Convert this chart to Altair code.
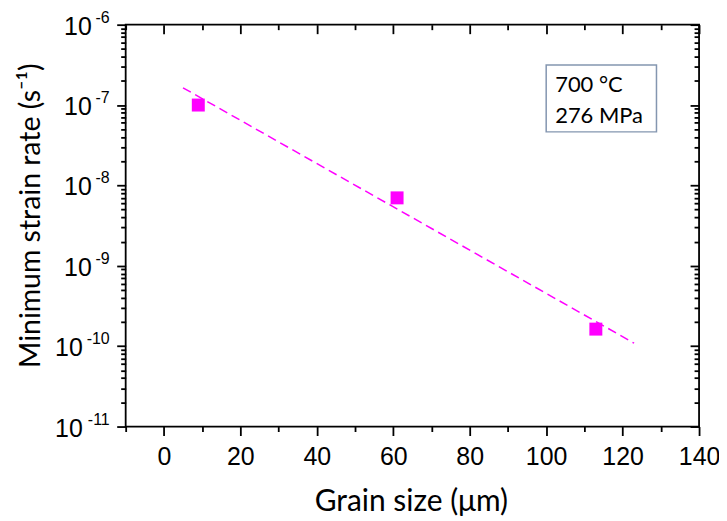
import altair as alt
import pandas as pd

# ---- data ----
grain_size = [9, 61, 113]                 # µm
strain_rate = [1.0e-7, 7.0e-9, 1.63e-10]  # 1/s
fit_x = [5, 123]
fit_y = [1.64e-7, 1.09e-10]

x_major = [0, 20, 40, 60, 80, 100, 120, 140]
x_minor = [-10, 10, 30, 50, 70, 90, 110, 130]
y_exponents = [-11, -10, -9, -8, -7, -6]
y_major = [10.0 ** e for e in y_exponents]
y_minor = [m * 10.0 ** e for e in range(-11, -6) for m in range(2, 10)]
box_lines = ["700 °C", "276 MPa"]

MAGENTA = "#ff00ff"
TICK_FONT = "Liberation Sans"
TITLE_FONT = "Lato"
LW = 1.8

pts = pd.DataFrame({"g": grain_size, "r": strain_rate})
fit = pd.DataFrame({"g": fit_x, "r": fit_y})
lab = pd.DataFrame({"v": y_major, "e": y_exponents})
lab["sup"] = lab["e"].astype(str)
lab["nd"] = lab["e"].abs().astype(str).str.len()
one = pd.DataFrame({"a": [0]})
box = pd.DataFrame({"t": box_lines, "i": [0, 1]})

xs = alt.Scale(domain=[-10, 140], nice=False, zero=False)
ys = alt.Scale(type="log", domain=[1e-11, 1e-6], nice=False)

common_axis = dict(domain=False, tickColor="black", tickWidth=LW, grid=False)


def ax(orient, values, size, offset=0, **kw):
    d = dict(common_axis)
    d.update(dict(orient=orient, values=values, tickSize=size, offset=offset,
                  labels=False, title=None))
    d.update(kw)
    return alt.Axis(**d)


# main line with major bottom/left axes
line = alt.Chart(fit).mark_line(color=MAGENTA, strokeWidth=1.5, strokeDash=[9, 5]).encode(
    x=alt.X("g:Q", scale=xs, axis=alt.Axis(
        orient="bottom", values=x_major, tickSize=9, domain=False, tickColor="black",
        tickWidth=LW, grid=False, labels=True, labelFont=TICK_FONT, labelFontSize=25,
        labelColor="black", labelPadding=9, labelFlush=False,
        title="Grain size (μm)", titleFont=TITLE_FONT, titleFontSize=30,
        titleFontWeight="normal", titleColor="black", titleBaseline="alphabetic",
        titleY=84, titleX=286, titleAlign="center")),
    y=alt.Y("r:Q", scale=ys, axis=alt.Axis(
        orient="left", values=y_major, tickSize=9, domain=False, tickColor="black",
        tickWidth=LW, grid=False, labels=False,
        title="Minimum strain rate (s⁻¹)", titleFont=TITLE_FONT, titleFontSize=28.5,
        titleFontWeight="normal", titleColor="black", titleBaseline="alphabetic",
        titleAngle=270, titleX=-86, titleY=191, titleAlign="center")),
)

minor_bl = alt.Chart(pts).mark_point(opacity=0).encode(
    x=alt.X("g:Q", scale=xs, axis=ax("bottom", x_minor, 5)),
    y=alt.Y("r:Q", scale=ys, axis=ax("left", y_minor, 5)),
)
major_tr = alt.Chart(pts).mark_point(opacity=0).encode(
    x=alt.X("g:Q", scale=xs, axis=ax("top", x_major, 9, offset=-9)),
    y=alt.Y("r:Q", scale=ys, axis=ax("right", y_major, 9, offset=-9)),
)
minor_tr = alt.Chart(pts).mark_point(opacity=0).encode(
    x=alt.X("g:Q", scale=xs, axis=ax("top", x_minor, 5, offset=-5)),
    y=alt.Y("r:Q", scale=ys, axis=ax("right", y_minor, 5, offset=-5)),
)

points = alt.Chart(pts).mark_square(color=MAGENTA, size=169, opacity=1).encode(
    x=alt.X("g:Q", scale=xs, axis=None),
    y=alt.Y("r:Q", scale=ys, axis=None),
)

ten1 = alt.Chart(lab).transform_filter("datum.nd == '1'").mark_text(
    text="10", font=TICK_FONT, fontSize=25, align="right", baseline="alphabetic",
    dy=10, color="black").encode(x=alt.value(-34), y=alt.Y("v:Q", scale=ys, axis=None))
ten2 = alt.Chart(lab).transform_filter("datum.nd == '2'").mark_text(
    text="10", font=TICK_FONT, fontSize=25, align="right", baseline="alphabetic",
    dy=10, color="black").encode(x=alt.value(-43), y=alt.Y("v:Q", scale=ys, axis=None))
sup = alt.Chart(lab).mark_text(
    font=TICK_FONT, fontSize=16, align="right", baseline="alphabetic",
    dy=-2, color="black").encode(x=alt.value(-16), y=alt.Y("v:Q", scale=ys, axis=None),
                                 text="sup:N")

rect = alt.Chart(one).mark_rect(fill="white", stroke="#8496b0", strokeWidth=1.5).encode(
    x=alt.value(421.7), x2=alt.value(532.3), y=alt.value(40.5), y2=alt.value(107.5))
txt0 = alt.Chart(box).transform_filter("datum.i == 0").mark_text(
    font=TITLE_FONT, fontSize=22, align="left", baseline="alphabetic", color="black"
).encode(x=alt.value(430.7), y=alt.value(67.2), text="t:N")
txt1 = alt.Chart(box).transform_filter("datum.i == 1").mark_text(
    font=TITLE_FONT, fontSize=22, align="left", baseline="alphabetic", color="black"
).encode(x=alt.value(430.7), y=alt.value(98.2), text="t:N")

chart = alt.layer(
    line, minor_bl, major_tr, minor_tr, points, ten1, ten2, sup, rect, txt0, txt1
).resolve_axis(x="independent", y="independent").properties(
    width=575, height=403,
    autosize=alt.AutoSizeParams(type="none"),
    padding={"left": 118, "top": 16, "right": 20, "bottom": 95},
    background="white",
).configure_view(stroke="black", strokeWidth=LW)

chart.save("out.html", embed_options={"renderer": "svg", "actions": False})
